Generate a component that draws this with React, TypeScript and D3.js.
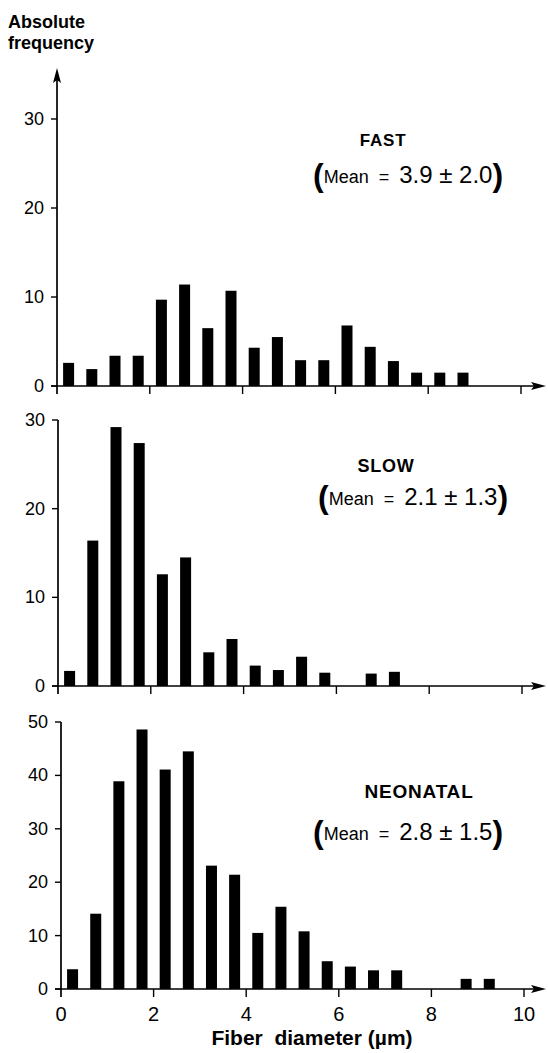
import * as d3 from "d3";
import { useEffect, useRef } from "react";

// bin centres (µm), 0.5 µm bins
const binCenters = [0.25, 0.75, 1.25, 1.75, 2.25, 2.75, 3.25, 3.75, 4.25, 4.75, 5.25, 5.75, 6.25, 6.75, 7.25, 7.75, 8.25, 8.75, 9.25];

const fastCounts = [2.6, 1.9, 3.4, 3.4, 9.7, 11.4, 6.5, 10.7, 4.3, 5.5, 2.9, 2.9, 6.8, 4.4, 2.8, 1.5, 1.5, 1.5];
const slowCounts = [1.7, 16.4, 29.2, 27.4, 12.6, 14.5, 3.8, 5.3, 2.3, 1.8, 3.3, 1.5, 0, 1.4, 1.6];
const neonatalCounts = [3.7, 14.1, 38.9, 48.6, 41.1, 44.5, 23.1, 21.4, 10.5, 15.4, 10.8, 5.2, 4.2, 3.5, 3.5, 0, 0, 1.9, 1.9];

const panelNames = ["FAST", "SLOW", "NEONATAL"];
const panelMeans = ["3.9 ± 2.0", "2.1 ± 1.3", "2.8 ± 1.5"];

const yTicksFast = [0, 10, 20, 30];
const yTicksSlow = [0, 10, 20, 30];
const yTicksNeonatal = [0, 10, 20, 30, 40, 50];
const xTicks = [0, 2, 4, 6, 8, 10];

const yLabel = ["Absolute", "frequency"];
const xLabel = "Fiber  diameter (µm)";

const FONT = "'Liberation Sans', Arial, sans-serif";

export default function App() {
  const ref = useRef<SVGSVGElement | null>(null);

  useEffect(() => {
    const svg = d3.select(ref.current);
    svg.selectAll("*").remove();

    // panel layout (pixel positions)
    const panels = [
      {
        counts: fastCounts, ticks: yTicksFast, yMax: 30, base: 386, top: 119, xr: [57, 521], arrowTop: 68,
        title: { x: 383, y: 146, size: 17 }, mean: { x: 313, y: 183 },
      },
      {
        counts: slowCounts, ticks: yTicksSlow, yMax: 30, base: 686, top: 420, xr: [58, 522], arrowTop: null,
        title: { x: 386, y: 472, size: 18 }, mean: { x: 318, y: 505 },
      },
      {
        counts: neonatalCounts, ticks: yTicksNeonatal, yMax: 50, base: 989, top: 722, xr: [61, 524], arrowTop: null,
        title: { x: 419, y: 798, size: 19 }, mean: { x: 313, y: 840 },
      },
    ];

    const ink = "#000";

    panels.forEach((p, i) => {
      const x = d3.scaleLinear().domain([0, 10]).range(p.xr);
      const y = d3.scaleLinear().domain([0, p.yMax]).range([p.base, p.top]);
      const g = svg.append("g");
      const barW = 11;

      // bars
      g.selectAll("rect")
        .data(p.counts.map((c, k) => ({ c, x: binCenters[k] })).filter((d) => d.c > 0))
        .enter()
        .append("rect")
        .attr("x", (d) => x(d.x) - barW / 2)
        .attr("y", (d) => y(d.c))
        .attr("width", barW)
        .attr("height", (d) => y(0) - y(d.c))
        .attr("fill", ink);

      // y axis line
      const yTopPx = p.arrowTop != null ? p.arrowTop + 4 : y(p.yMax);
      g.append("line")
        .attr("x1", x(0)).attr("x2", x(0))
        .attr("y1", y(0) + 8).attr("y2", yTopPx)
        .attr("stroke", ink).attr("stroke-width", 1.7);
      if (p.arrowTop != null) {
        const ax = x(0);
        g.append("path")
          .attr("d", `M${ax},${p.arrowTop} L${ax - 4},${p.arrowTop + 15} L${ax},${p.arrowTop + 12} L${ax + 4},${p.arrowTop + 15} Z`)
          .attr("fill", ink);
      }

      // y ticks + labels
      p.ticks.forEach((t) => {
        g.append("line")
          .attr("x1", x(0) - 6).attr("x2", x(0))
          .attr("y1", y(t)).attr("y2", y(t))
          .attr("stroke", ink).attr("stroke-width", 1.4);
        g.append("text")
          .attr("x", x(0) - 13)
          .attr("y", y(t) + 6)
          .attr("text-anchor", "end")
          .attr("font-family", FONT)
          .attr("font-size", 18)
          .attr("fill", ink)
          .text(t);
      });

      // x axis line with arrow
      const arrowTip = 546;
      g.append("line")
        .attr("x1", x(0) - 6).attr("x2", arrowTip - 6)
        .attr("y1", y(0)).attr("y2", y(0))
        .attr("stroke", ink).attr("stroke-width", 1.7);
      g.append("path")
        .attr("d", `M${arrowTip},${y(0)} L${arrowTip - 15},${y(0) - 4} L${arrowTip - 12},${y(0)} L${arrowTip - 15},${y(0) + 4} Z`)
        .attr("fill", ink);

      xTicks.forEach((t) => {
        if (t === 0) return;
        g.append("line")
          .attr("x1", x(t)).attr("x2", x(t))
          .attr("y1", y(0)).attr("y2", y(0) + 8)
          .attr("stroke", ink).attr("stroke-width", 1.4);
      });

      if (i === panels.length - 1) {
        xTicks.forEach((t) => {
          g.append("text")
            .attr("x", x(t))
            .attr("y", y(0) + 32)
            .attr("text-anchor", "middle")
            .attr("font-family", FONT)
            .attr("font-size", 20)
            .attr("fill", ink)
            .text(t);
        });
      }

      // annotation
      g.append("text")
        .attr("x", p.title.x)
        .attr("y", p.title.y)
        .attr("text-anchor", "middle")
        .attr("font-family", FONT)
        .attr("font-weight", "bold")
        .attr("font-size", p.title.size)
        .attr("letter-spacing", 0.8)
        .attr("fill", ink)
        .text(panelNames[i]);

      const mean = g.append("text")
        .attr("x", p.mean.x)
        .attr("y", p.mean.y)
        .attr("font-family", FONT)
        .attr("fill", ink)
        .style("white-space", "pre");
      mean.append("tspan").attr("font-size", 32).attr("font-weight", "bold").attr("dy", 3).text("(");
      mean.append("tspan").attr("font-size", 18).attr("dy", -3).text("Mean  =  ");
      mean.append("tspan").attr("font-size", 24).text(panelMeans[i]);
      mean.append("tspan").attr("font-size", 32).attr("font-weight", "bold").attr("dy", 3).text(")");
    });

    // axis titles
    const yl = svg.append("text")
      .attr("font-family", FONT)
      .attr("font-weight", "bold")
      .attr("font-size", 18)
      .attr("fill", ink);
    yLabel.forEach((s, k) => {
      yl.append("tspan").attr("x", 8).attr("y", 28 + k * 21).text(s);
    });

    svg.append("text")
      .attr("x", 312)
      .attr("y", 1045)
      .attr("text-anchor", "middle")
      .attr("font-family", FONT)
      .attr("font-weight", "bold")
      .attr("font-size", 21)
      .attr("fill", ink)
      .style("white-space", "pre")
      .text(xLabel);
  }, []);

  return (
    <svg
      ref={ref}
      width={548}
      height={1053}
      style={{ position: "absolute", left: 0, top: 0, background: "#fff" }}
    />
  );
}
